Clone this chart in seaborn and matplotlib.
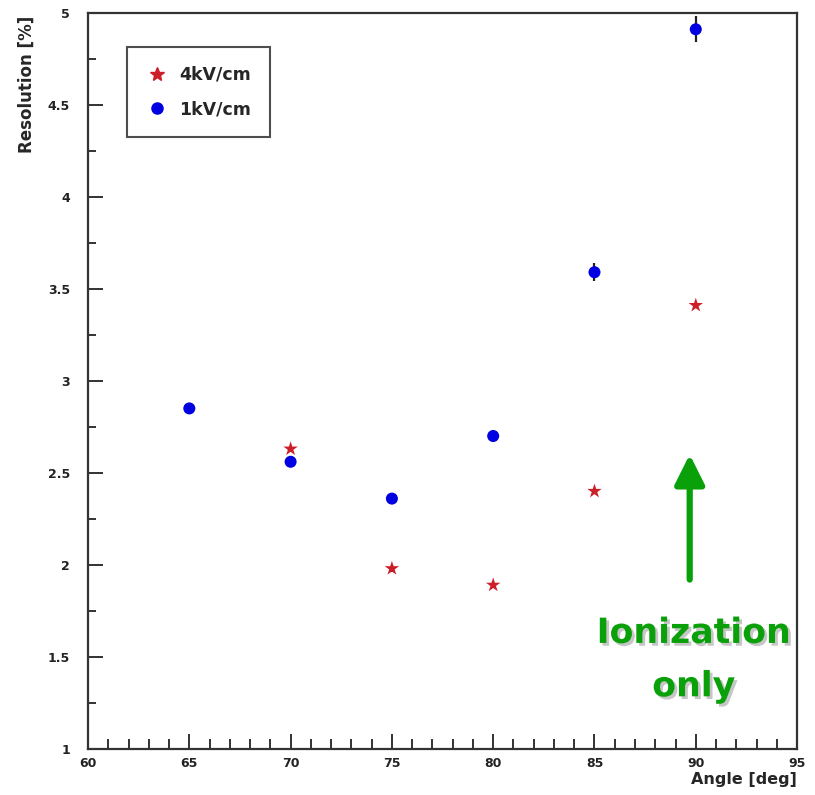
import matplotlib
matplotlib.use("Agg")
import matplotlib.pyplot as plt
import matplotlib.patheffects as pe
from matplotlib.ticker import MultipleLocator
import pandas as pd
import seaborn as sns

# Energy resolution vs. incidence angle for two drift fields
angles_1kv = [65, 70, 75, 80, 85, 90]
res_1kv = [2.85, 2.56, 2.36, 2.70, 3.59, 4.91]
err_1kv = [0.03, 0.03, 0.03, 0.03, 0.05, 0.07]

angles_4kv = [70, 75, 80, 85, 90]
res_4kv = [2.63, 1.98, 1.89, 2.40, 3.41]
err_4kv = [0.01, 0.02, 0.01, 0.01, 0.01]

series_labels = ["4kV/cm", "1kV/cm"]
series_colors = ["#cc1f2a", "#0000e0"]
series_markers = ["*", "o"]
series_sizes = [120, 75]

df = pd.concat([
    pd.DataFrame({"angle": angles_4kv, "res": res_4kv, "err": err_4kv, "field": series_labels[0]}),
    pd.DataFrame({"angle": angles_1kv, "res": res_1kv, "err": err_1kv, "field": series_labels[1]}),
])

sns.set_style("ticks")
plt.rcParams["font.family"] = ["DejaVu Sans"]

fig = plt.figure(figsize=(8.15, 7.95), dpi=100)
ax = fig.add_axes([0.108, 0.058, 0.870, 0.926])

# error bars first so markers sit on top
for lab in series_labels:
    sub = df[df["field"] == lab]
    ax.errorbar(sub["angle"], sub["res"], yerr=sub["err"], fmt="none",
                ecolor="#222222", elinewidth=1.6, capsize=0, zorder=2)

sns.scatterplot(data=df, x="angle", y="res", hue="field", style="field", size="field",
                hue_order=series_labels, style_order=series_labels, size_order=series_labels,
                palette=dict(zip(series_labels, series_colors)),
                markers=dict(zip(series_labels, series_markers)),
                sizes=dict(zip(series_labels, series_sizes)),
                linewidth=0, ax=ax, zorder=3, legend=False)

ax.set_xlim(60, 95)
ax.set_ylim(1, 5)
ax.xaxis.set_minor_locator(MultipleLocator(1))
ax.yaxis.set_minor_locator(MultipleLocator(0.25))
ax.set_xticks([60, 65, 70, 75, 80, 85, 90, 95])
ax.set_xticklabels(["60", "65", "70", "75", "80", "85", "90", "95"])
ax.set_yticks([1, 1.5, 2, 2.5, 3, 3.5, 4, 4.5, 5])
ax.set_yticklabels(["1", "1.5", "2", "2.5", "3", "3.5", "4", "4.5", "5"])

ax.tick_params(axis="both", which="major", direction="in", length=11, width=1.3,
               labelsize=9, colors="#222222")
ax.tick_params(axis="y", which="major", pad=13)
ax.tick_params(axis="x", which="major", pad=6)
ax.tick_params(axis="y", which="minor", direction="in", length=6, width=1.3, color="#222222")
ax.tick_params(axis="x", which="minor", direction="in", length=7, width=1.3, color="#222222")
for lbl in ax.get_xticklabels() + ax.get_yticklabels():
    lbl.set_fontweight("bold")

for side in ["left", "bottom", "top", "right"]:
    ax.spines[side].set_visible(True)
    ax.spines[side].set_linewidth(1.6)
    ax.spines[side].set_color("#333333")

ax.set_xlabel("Angle [deg]", loc="right", fontsize=11.5, fontweight="bold")
ax.xaxis.set_label_coords(1.0, -0.031)
ax.set_ylabel("Resolution [%]", loc="top", fontsize=12, fontweight="bold")
ax.yaxis.set_label_coords(-0.074, 0.996)

# legend built from the same series styles
handles = [
    plt.Line2D([], [], linestyle="none", marker=m, color=c,
               markersize=(10 if m == "*" else 8))
    for m, c in zip(series_markers, series_colors)
]
leg = ax.legend(handles, series_labels, loc="upper left",
                bbox_to_anchor=(0.055, 0.954), frameon=True, fancybox=False,
                prop={"size": 12.5, "weight": "bold"}, handletextpad=0.7,
                borderpad=1.1, labelspacing=0.95, handlelength=1.2,
                borderaxespad=0)
leg.get_frame().set_edgecolor("#222222")
leg.get_frame().set_linewidth(1.5)

# annotation: ionization-only regime
green = "#0aa00a"
ax.annotate("", xy=(89.7, 2.60), xytext=(89.7, 1.92),
            arrowprops=dict(arrowstyle="-|>,head_length=0.9,head_width=0.45",
                            color=green, lw=4.5, mutation_scale=20,
                            shrinkA=0, shrinkB=0))
text_effects = [pe.SimplePatchShadow(offset=(2, -2), shadow_rgbFace="#c0c0c0", alpha=0.9),
                pe.Normal()]
for text, yv in [("Ionization", 1.63), ("only", 1.34)]:
    ax.text(89.9, yv, text, ha="center", va="center", fontsize=25,
            fontweight="bold", color=green, path_effects=text_effects,
            clip_on=False, zorder=5)

fig.savefig("out.png", dpi=100)
